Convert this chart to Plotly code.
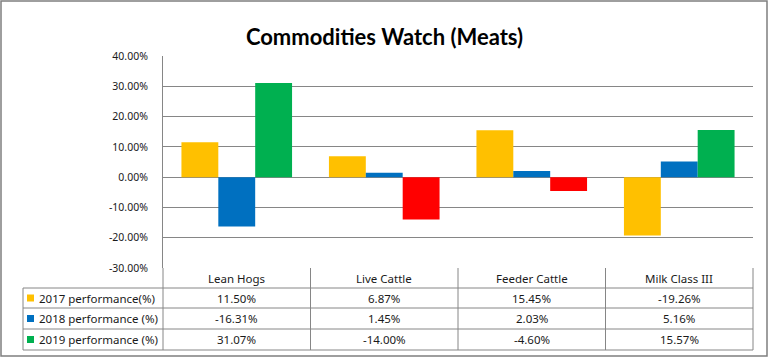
import plotly.graph_objects as go

categories = ["Lean Hogs", "Live Cattle", "Feeder Cattle", "Milk Class III"]
series_names = ["2017 performance(%)", "2018 performance (%)", "2019 performance (%)"]
v2017 = [11.50, 6.87, 15.45, -19.26]
v2018 = [-16.31, 1.45, 2.03, 5.16]
v2019 = [31.07, -14.00, -4.60, 15.57]
tick_vals = [40, 30, 20, 10, 0, -10, -20, -30]
tick_text = ["40.00%", "30.00%", "20.00%", "10.00%", "0.00%", "-10.00%", "-20.00%", "-30.00%"]

YELLOW, BLUE, GREEN, RED = "#FFC000", "#0070C0", "#00B050", "#FF0000"
GRID = "#868686"
TXT = "#1a1a1a"
FONT = "Noto Sans"

W, H = 769, 358
L, R, T, B = 163, 753, 56, 268  # plot area in pixels


def px_x(p):
    return (p - L) / (R - L)


def px_y(p):
    return (B - p) / (B - T)


series = [v2017, v2018, v2019]
colors = [
    [YELLOW] * len(v2017),
    [BLUE] * len(v2018),
    [GREEN if v >= 0 else RED for v in v2019],
]

fig = go.Figure()
for name, vals, cols in zip(series_names, series, colors):
    fig.add_trace(go.Bar(x=categories, y=vals, name=name, marker=dict(color=cols, line=dict(width=0)),
                         showlegend=False, hoverinfo="skip"))

fig.update_layout(
    width=W, height=H,
    margin=dict(l=L, r=W - R, t=T, b=H - B),
    paper_bgcolor="white", plot_bgcolor="white",
    barmode="group", bargap=0.25, bargroupgap=0,
    title=dict(text="<b>Commodities Watch (Meats)</b>", x=0.5, xanchor="center", xref="container",
               y=1 - 37 / H, yanchor="middle", yref="container",
               font=dict(family="Lato", size=22, color="black")),
    xaxis=dict(range=[-0.5, 3.5], showticklabels=False, showgrid=False, zeroline=False,
               showline=False, fixedrange=True),
    yaxis=dict(range=[-30, 40], tickvals=tick_vals, ticktext=tick_text, showgrid=True,
               gridcolor=GRID, gridwidth=1, zeroline=False, showline=True, linecolor=GRID,
               linewidth=1, ticks="", ticklabelstandoff=12,
               tickfont=dict(family=FONT, size=10.5, color=TXT)),
)

shapes = []
line = dict(color=GRID, width=1)
# outer chart border
shapes.append(dict(type="rect", xref="paper", yref="paper", x0=px_x(1), x1=px_x(767),
                   y0=px_y(1), y1=px_y(356), line=dict(color="#7f7f7f", width=1.5)))
# data table lines
row_lines = [288, 308, 329, 350]
left_edge = 23
for ry in row_lines:
    shapes.append(dict(type="line", xref="paper", yref="paper", x0=px_x(left_edge), x1=1,
                       y0=px_y(ry), y1=px_y(ry), line=line))
n = len(categories)
for i in range(n + 1):
    shapes.append(dict(type="line", xref="paper", yref="paper", x0=i / n, x1=i / n,
                       y0=0, y1=px_y(row_lines[-1]), line=line))
shapes.append(dict(type="line", xref="paper", yref="paper", x0=px_x(left_edge), x1=px_x(left_edge),
                   y0=px_y(row_lines[0]), y1=px_y(row_lines[-1]), line=line))

annotations = []
# header
for c in categories:
    annotations.append(dict(text=c, x=c, xref="x", y=px_y((B + row_lines[0]) / 2), yref="paper",
                            showarrow=False, xanchor="center", yanchor="middle",
                            font=dict(family=FONT, size=11.5, color=TXT)))
legend_cols = [YELLOW, BLUE, GREEN]
for r, (name, vals, lc) in enumerate(zip(series_names, series, legend_cols)):
    top, bot = row_lines[r], row_lines[r + 1]
    mid = (top + bot) / 2
    shapes.append(dict(type="rect", xref="paper", yref="paper", x0=px_x(27), x1=px_x(34),
                       y0=px_y(mid - 3.5), y1=px_y(mid + 3.5), fillcolor=lc, line=dict(width=0)))
    annotations.append(dict(text=name, x=px_x(37), xref="paper", y=px_y(mid), yref="paper",
                            showarrow=False, xanchor="left", yanchor="middle",
                            font=dict(family=FONT, size=11.5, color=TXT)))
    for c, v in zip(categories, vals):
        annotations.append(dict(text=f"{v:.2f}%", x=c, xref="x", y=px_y(mid), yref="paper",
                                showarrow=False, xanchor="center", yanchor="middle",
                                font=dict(family=FONT, size=11.5, color=TXT)))

fig.update_layout(shapes=shapes, annotations=annotations)
fig.write_html("out.html", config={"displayModeBar": False},
               post_script="document.body.style.margin='0';")
